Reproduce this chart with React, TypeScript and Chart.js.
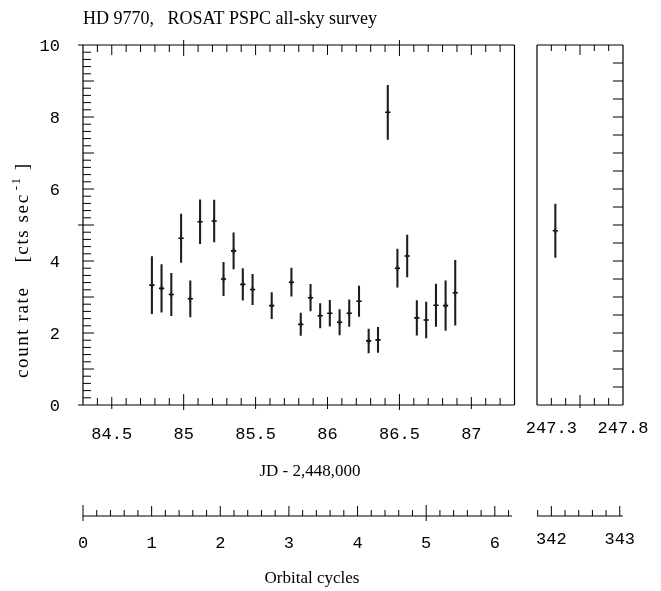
import React, { useEffect, useRef } from "react";
import { Chart, registerables } from "chart.js";

Chart.register(...registerables);

// ---------------- data ----------------
const jdMain = [
  84.779, 84.846, 84.914, 84.982, 85.046, 85.114, 85.212, 85.277, 85.347, 85.411,
  85.479, 85.612, 85.749, 85.814, 85.882, 85.949, 86.016, 86.084, 86.151, 86.219,
  86.286, 86.351, 86.419, 86.486, 86.554, 86.621, 86.686, 86.754, 86.821, 86.888,
];
const rateMain = [
  3.33, 3.24, 3.07, 4.63, 2.95, 5.09, 5.11, 3.5, 4.28, 3.35,
  3.21, 2.76, 3.41, 2.24, 2.98, 2.48, 2.55, 2.3, 2.55, 2.88,
  1.78, 1.81, 8.13, 3.8, 4.14, 2.42, 2.36, 2.77, 2.76, 3.12,
];
const errMain = [
  0.79, 0.66, 0.59, 0.67, 0.5, 0.61, 0.58, 0.46, 0.5, 0.44,
  0.42, 0.36, 0.39, 0.31, 0.37, 0.34, 0.36, 0.35, 0.37, 0.42,
  0.33, 0.35, 0.75, 0.53, 0.58, 0.48, 0.5, 0.59, 0.69, 0.9,
];
const jdRight = [247.328];
const rateRight = [4.84];
const errRight = [0.74];

// tick labels
const rateLabelTicks = [0, 2, 4, 6, 8, 10];
const jdMainLabelTicks = [84.5, 85, 85.5, 86, 86.5, 87];
const jdMainCrossTicks = [85, 86.5];
const jdRightLabelTicks = [247.3, 247.8];
const orbMainLabelTicks = [0, 1, 2, 3, 4, 5, 6];
const orbMainCrossTicks = [0, 5];
const orbRightLabelTicks = [342, 343];

// axis ranges
const JD_MAIN_MIN = 84.3;
const JD_MAIN_MAX = 87.3;
const JD_RIGHT_MIN = 247.2;
const JD_RIGHT_MAX = 247.8;
const RATE_MIN = 0;
const RATE_MAX = 10;
const PERIOD_DAYS = 0.4772;
const ORB_RIGHT_START = 341.79;

// texts
const TITLE = "HD 9770,   ROSAT PSPC all-sky survey";
const X_TITLE = "JD - 2,448,000";
const ORB_TITLE = "Orbital cycles";
const Y_TITLE_A = "count rate";
const Y_TITLE_B = "[cts sec";
const Y_TITLE_SUP = "-1";
const Y_TITLE_END = "]";

// ---------------- layout / style ----------------
const W = 661;
const H = 591;
const MAIN_AREA = { left: 83, right: 514.5, top: 45, bottom: 405 };
const RIGHT_AREA = { left: 537, right: 623, top: 45, bottom: 405 };
const ORB_LINE_Y = 516;
const INK = "#000";
const MONO = '17px "Liberation Mono", "DejaVu Sans Mono", monospace';
const SERIF = '18px "Liberation Serif", "DejaVu Serif", serif';
const SERIF_SMALL = '17px "Liberation Serif", "DejaVu Serif", serif';
const SERIF_Y = '19px "Liberation Serif", "DejaVu Serif", serif';
const SERIF_SUP = '13px "Liberation Serif", "DejaVu Serif", serif';

const near = (a: number, list: number[]) => list.some((b) => Math.abs(a - b) < 1e-6);

function makeLine(ctx: CanvasRenderingContext2D) {
  return (x1: number, y1: number, x2: number, y2: number) => {
    ctx.beginPath();
    ctx.moveTo(x1, y1);
    ctx.lineTo(x2, y2);
    ctx.stroke();
  };
}

const mainDecor = {
  id: "mainDecor",
  afterDraw(chart: any) {
    const ctx: CanvasRenderingContext2D = chart.ctx;
    const xs = chart.scales.x;
    const ys = chart.scales.y;
    const os = chart.scales.orb;
    const { left, right, top, bottom } = chart.chartArea;
    const line = makeLine(ctx);
    ctx.save();
    ctx.strokeStyle = INK;
    ctx.fillStyle = INK;
    ctx.lineWidth = 1.2;
    // frame
    line(left - 5, top, right, top);
    line(left - 5, bottom, right, bottom);
    line(left, top, left, bottom);
    line(right, top, right, bottom);
    ctx.lineWidth = 1;
    // y ticks (left)
    for (let k = 1; k < 50; k++) {
      const v = RATE_MIN + k * 0.2;
      const py = ys.getPixelForValue(v);
      const isInt = k % 5 === 0;
      const isFive = k % 25 === 0;
      line(left - (isFive ? 5 : 0), py, left + (isInt ? 11 : 8), py);
    }
    // x ticks top & bottom
    for (let k = 1; k < 30; k++) {
      const v = Math.round((JD_MAIN_MIN + k * 0.1) * 10) / 10;
      const px = xs.getPixelForValue(v);
      const isHalf = near(v, jdMainLabelTicks);
      const isCross = near(v, jdMainCrossTicks);
      if (isCross) {
        line(px, bottom + 5, px, bottom - 11);
        line(px, top - 5, px, top + 11);
      } else if (isHalf) {
        line(px, bottom + 4, px, bottom - 8);
        line(px, top, px, top + 10);
      } else {
        line(px, bottom, px, bottom - 7);
        line(px, top, px, top + 7);
      }
    }
    // y labels
    ctx.font = MONO;
    ctx.textAlign = "right";
    ctx.textBaseline = "middle";
    rateLabelTicks.forEach((v) => ctx.fillText(String(v), 60, ys.getPixelForValue(v) + 1));
    // x labels
    ctx.textAlign = "center";
    ctx.textBaseline = "alphabetic";
    jdMainLabelTicks.forEach((v) => ctx.fillText(String(v), xs.getPixelForValue(v), 439));
    // orbital axis
    const orbEnd = 6.25;
    ctx.lineWidth = 1.1;
    line(os.getPixelForValue(0), ORB_LINE_Y, os.getPixelForValue(orbEnd), ORB_LINE_Y);
    ctx.lineWidth = 1;
    for (let k = 0; k * 0.2 <= orbEnd + 1e-6; k++) {
      const v = Math.round(k * 0.2 * 10) / 10;
      const px = os.getPixelForValue(v);
      const isInt = near(v, orbMainLabelTicks);
      const isCross = near(v, orbMainCrossTicks);
      if (isCross) line(px, ORB_LINE_Y + 5, px, ORB_LINE_Y - 11);
      else if (isInt) line(px, ORB_LINE_Y, px, ORB_LINE_Y - 10);
      else line(px, ORB_LINE_Y, px, ORB_LINE_Y - 6);
    }
    orbMainLabelTicks.forEach((v) => ctx.fillText(String(v), os.getPixelForValue(v), 548));
    // titles
    ctx.font = SERIF;
    ctx.textAlign = "left";
    ctx.fillText(TITLE, left, 24);
    ctx.font = SERIF_SMALL;
    ctx.textAlign = "center";
    ctx.fillText(X_TITLE, 310, 476);
    ctx.fillText(ORB_TITLE, 312, 583);
    // y title (rotated, with superscript)
    ctx.save();
    ctx.translate(28, 378);
    ctx.rotate(-Math.PI / 2);
    ctx.textAlign = "left";
    (ctx as any).letterSpacing = "1.6px";
    ctx.font = SERIF_Y;
    const wa = ctx.measureText(Y_TITLE_A).width;
    const wb = ctx.measureText(Y_TITLE_B).width;
    let x0 = 0;
    ctx.fillText(Y_TITLE_A, x0, 0);
    x0 += wa + 24;
    ctx.fillText(Y_TITLE_B, x0, 0);
    x0 += wb + 3;
    ctx.font = SERIF_SUP;
    const ws = ctx.measureText(Y_TITLE_SUP).width;
    ctx.fillText(Y_TITLE_SUP, x0, -8);
    x0 += ws + 6;
    ctx.font = SERIF_Y;
    ctx.fillText(Y_TITLE_END, x0, 0);
    (ctx as any).letterSpacing = "0px";
    ctx.restore();
    ctx.restore();
  },
};

const rightDecor = {
  id: "rightDecor",
  afterDraw(chart: any) {
    const ctx: CanvasRenderingContext2D = chart.ctx;
    const xs = chart.scales.x;
    const ys = chart.scales.y;
    const os = chart.scales.orb;
    const { left, right, top, bottom } = chart.chartArea;
    const line = makeLine(ctx);
    ctx.save();
    ctx.strokeStyle = INK;
    ctx.fillStyle = INK;
    ctx.lineWidth = 1.2;
    line(left, top, right, top);
    line(left, bottom, right, bottom);
    line(left, top, left, bottom);
    line(right, top, right, bottom);
    ctx.lineWidth = 1;
    for (let k = 1; k < 6; k++) {
      const v = Math.round((JD_RIGHT_MIN + k * 0.1) * 10) / 10;
      const px = xs.getPixelForValue(v);
      const long = Math.abs(v - 247.5) < 1e-6;
      line(px, top, px, top + (long ? 10 : 6));
      line(px, bottom + (long ? 3 : 0), px, bottom - (long ? 10 : 7));
    }
    for (let k = 1; k < 20; k++) {
      const v = RATE_MIN + k * 0.5;
      const py = ys.getPixelForValue(v);
      line(right - 10, py, right, py);
    }
    ctx.font = MONO;
    ctx.textAlign = "center";
    ctx.textBaseline = "alphabetic";
    jdRightLabelTicks.forEach((v) => ctx.fillText(String(v), xs.getPixelForValue(v), 433));
    // orbital axis (right part)
    ctx.lineWidth = 1.1;
    line(left, ORB_LINE_Y, right, ORB_LINE_Y);
    ctx.lineWidth = 1;
    const first = Math.ceil(os.min / 0.2 - 1e-6);
    for (let k = first; k * 0.2 <= os.max + 1e-6; k++) {
      const v = Math.round(k * 0.2 * 10) / 10;
      const px = os.getPixelForValue(v);
      const isInt = near(v, orbRightLabelTicks);
      line(px, ORB_LINE_Y, px, ORB_LINE_Y - (isInt ? 10 : 6));
    }
    orbRightLabelTicks.forEach((v) => ctx.fillText(String(v), os.getPixelForValue(v), 544));
    ctx.restore();
  },
};

function buildConfig(
  jd: number[],
  rate: number[],
  err: number[],
  xmin: number,
  xmax: number,
  omin: number,
  area: { left: number; right: number; top: number; bottom: number },
  decor: any
): any {
  return {
    type: "scatter",
    data: {
      datasets: [
        {
          type: "bar",
          data: jd.map((x, i) => ({ x, y: [rate[i] - err[i], rate[i] + err[i]] })),
          backgroundColor: "#1c1c1c",
          borderWidth: 0,
          barThickness: 1.4,
          grouped: false,
        },
        {
          type: "scatter",
          data: jd.map((x, i) => ({ x, y: rate[i] })),
          pointStyle: "cross",
          radius: 2.6,
          borderWidth: 1.6,
          borderColor: "#000",
          backgroundColor: "#000",
        },
      ],
    },
    options: {
      animation: false,
      responsive: false,
      events: [],
      layout: {
        padding: { left: area.left, right: W - area.right, top: area.top, bottom: H - area.bottom },
      },
      plugins: { legend: { display: false }, tooltip: { enabled: false }, title: { display: false } },
      scales: {
        x: { type: "linear", min: xmin, max: xmax, offset: false, display: false },
        y: { type: "linear", min: RATE_MIN, max: RATE_MAX, offset: false, display: false },
        orb: {
          type: "linear",
          axis: "x",
          position: "bottom",
          offset: false,
          min: omin,
          max: omin + (xmax - xmin) / PERIOD_DAYS,
          display: false,
        },
      },
    },
    plugins: [decor],
  };
}

export default function App() {
  const mainRef = useRef<HTMLCanvasElement | null>(null);
  const rightRef = useRef<HTMLCanvasElement | null>(null);

  useEffect(() => {
    if (!mainRef.current || !rightRef.current) return;
    const c1 = new Chart(
      mainRef.current,
      buildConfig(jdMain, rateMain, errMain, JD_MAIN_MIN, JD_MAIN_MAX, 0, MAIN_AREA, mainDecor)
    );
    const c2 = new Chart(
      rightRef.current,
      buildConfig(jdRight, rateRight, errRight, JD_RIGHT_MIN, JD_RIGHT_MAX, ORB_RIGHT_START, RIGHT_AREA, rightDecor)
    );
    return () => {
      c1.destroy();
      c2.destroy();
    };
  }, []);

  const canvasStyle: React.CSSProperties = { position: "absolute", left: 0, top: 0, width: W, height: H };
  return (
    <div style={{ position: "absolute", left: 0, top: 0, width: W, height: H, background: "#fff" }}>
      <canvas ref={mainRef} width={W} height={H} style={canvasStyle} />
      <canvas ref={rightRef} width={W} height={H} style={canvasStyle} />
    </div>
  );
}
